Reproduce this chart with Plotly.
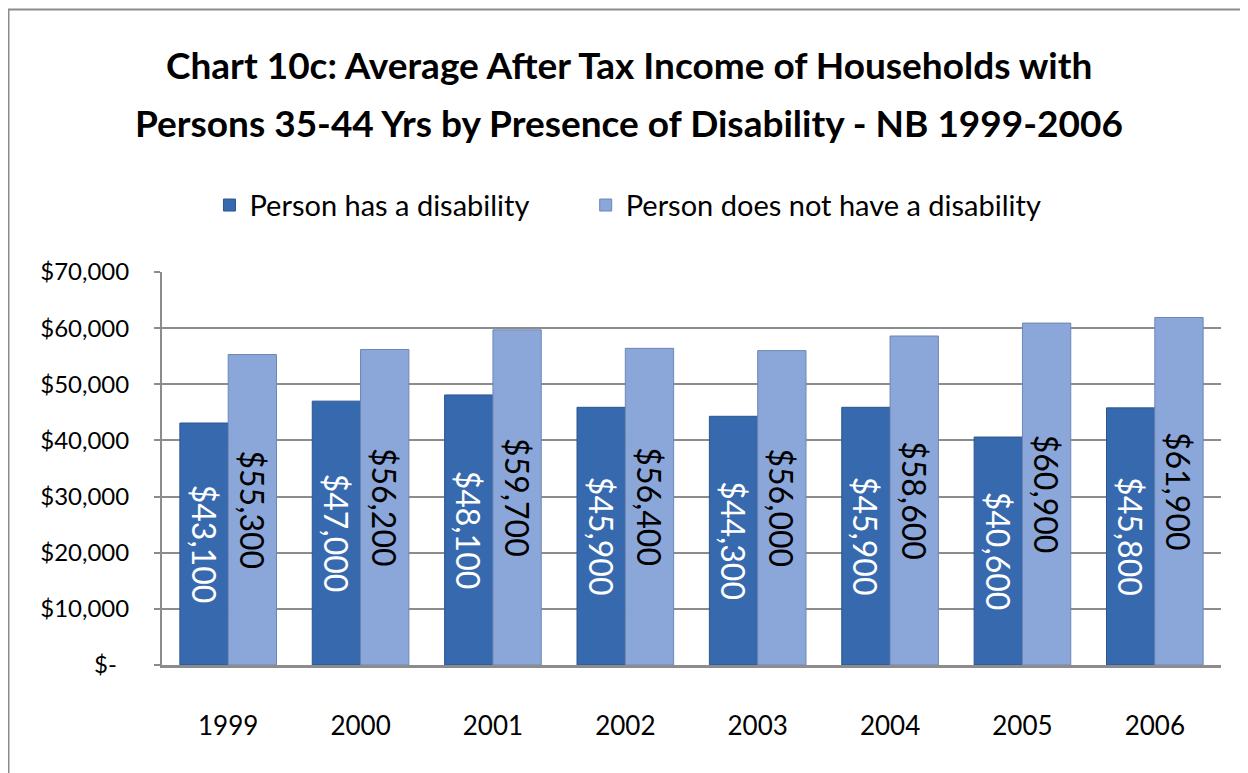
'''
    Grouped bar chart: average after tax income of households with
    persons 35-44 yrs by presence of disability, NB 1999-2006
'''

import plotly.graph_objects as go

years = ['1999', '2000', '2001', '2002', '2003', '2004', '2005', '2006']
has_disability = [43100, 47000, 48100, 45900, 44300, 45900, 40600, 45800]
no_disability = [55300, 56200, 59700, 56400, 56000, 58600, 60900, 61900]

y_tickvals = [0, 10000, 20000, 30000, 40000, 50000, 60000, 70000]
y_ticktext = ['$-\u00a0\u00a0', '$10,000', '$20,000', '$30,000',
              '$40,000', '$50,000', '$60,000', '$70,000']

title_lines = ['Chart 10c: Average After Tax Income of Households with',
               'Persons 35-44 Yrs by Presence of Disability - NB 1999-2006']

FONT = 'Lato, Liberation Sans, sans-serif'

# plot area in figure pixels
L, R, T, B = 154, 35, 264, 116
PW, PH = 1248 - L - R, 773 - T - B


def money(v):
    return '${:,}'.format(v)


fig = go.Figure()

fig.add_trace(go.Bar(
    x=years, y=has_disability,
    # trailing spaces only widen the gap between the two legend entries
    name='Person has a disability' + '\u00a0' * 7,
    marker=dict(color='#3769AF', line=dict(width=1, color='#2B5590')),
    text=[money(v) for v in has_disability],
    textposition='inside', insidetextanchor='middle', textangle=90,
    textfont=dict(family=FONT, size=32, color='white'),
))
fig.add_trace(go.Bar(
    x=years, y=no_disability, name='Person does not have a disability',
    marker=dict(color='#8BA7D9', line=dict(width=1, color='#6E86B4')),
    text=[money(v) for v in no_disability],
    textposition='inside', insidetextanchor='middle', textangle=90,
    textfont=dict(family=FONT, size=32, color='black'),
))

fig.update_layout(
    width=1248, height=773,
    margin=dict(l=L, r=R, t=T, b=B),
    paper_bgcolor='white', plot_bgcolor='white',
    barmode='group', bargap=0.27, bargroupgap=0,
    legend=dict(
        orientation='h', x=0.440, xanchor='center', y=1.17, yanchor='middle',
        font=dict(family=FONT, size=29, color='black'),
        traceorder='normal', itemwidth=30,
    ),
    showlegend=True,
    uniformtext=dict(minsize=20, mode='show'),
)

for i, line in enumerate(title_lines):
    fig.add_annotation(
        text=line, xref='paper', yref='paper', showarrow=False,
        x=(621 - L) / PW, xanchor='center',
        y=(T + PH - (57 + 57 * i)) / PH, yanchor='middle',
        font=dict(family=FONT, size=37, color='black', weight='bold'),
    )

fig.update_xaxes(
    showgrid=False, showline=True, linecolor='#8C8C8C', linewidth=3,
    ticks='', tickfont=dict(family=FONT, size=26, color='black'),
    ticklabelstandoff=36,
)
fig.update_yaxes(
    range=[0, 70000], tickvals=y_tickvals, ticktext=y_ticktext,
    showgrid=True, gridcolor='#8C8C8C', gridwidth=2,
    showline=True, linecolor='#8C8C8C', linewidth=2,
    ticks='outside', ticklen=6, tickcolor='#8C8C8C', tickwidth=2,
    tickfont=dict(family=FONT, size=24, color='black'),
    ticklabelstandoff=20, zeroline=False,
)

# outer chart frame (left and top edges visible)
fig.add_shape(type='rect', xref='paper', yref='paper',
              x0=(0.5 - L) / PW, x1=1.05,
              y0=-0.4, y1=(T + PH - 1.5) / PH,
              line=dict(color='#8C8C8C', width=2), layer='below')

fig.write_html('out.html')
